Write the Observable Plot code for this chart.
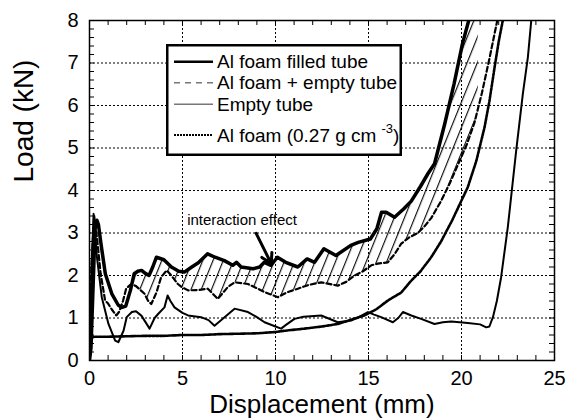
<!DOCTYPE html>
<html><head><meta charset="utf-8">
<script src="https://cdn.jsdelivr.net/npm/d3@7"></script>
<script src="https://cdn.jsdelivr.net/npm/@observablehq/plot@0.6"></script>
<style>
body{margin:0;background:#fff;}
#wrap{position:relative;width:576px;height:420px;font-family:"Liberation Sans",Arial,Helvetica,sans-serif;}
#legend{position:absolute;left:166px;top:44px;}
</style></head><body><div id="wrap"></div>
<script>
// Al foam filled tube
const ftX = [0,0.08,0.3,0.4,0.48,0.6,0.85,1.2,1.55,1.75,1.95,2.2,2.4,2.6,2.8,3.0,3.2,3.4,3.6,4.0,4.4,4.8,5.1,5.5,5.85,6.35,6.75,7.25,7.7,7.9,8.15,8.8,9.15,9.4,9.75,10.1,10.55,11.2,11.7,12.1,12.6,13.25,14.05,14.45,15.1,15.45,15.7,15.95,16.4,16.9,17.3,17.8,18.2,18.55,19.1,19.6,20.05,20.45,20.7];
const ftY = [0,0.3,3.1,3.3,3.2,2.8,2.04,1.57,1.3,1.25,1.28,1.65,2.04,2.1,2.12,2.05,2.0,2.2,2.43,2.37,2.2,2.1,2.08,2.2,2.3,2.51,2.43,2.35,2.24,2.31,2.2,2.16,2.2,2.31,2.24,2.43,2.31,2.2,2.39,2.31,2.63,2.47,2.71,2.78,2.86,3.1,3.49,3.49,3.37,3.57,3.75,4.1,4.4,4.63,5.57,6.51,7.45,8.1,8.6];
// Al foam + empty tube
const feX = [0,0.1,0.25,0.4,0.6,0.84,1.0,1.2,1.44,1.6,1.8,1.97,2.24,2.5,2.96,3.14,3.32,3.6,3.85,4.15,4.4,4.75,4.95,5.3,5.9,6.36,6.9,7.44,7.8,8.52,9.0,9.41,10.13,10.6,11.2,11.8,12.46,13.35,13.8,14.25,14.7,15.15,15.5,16.04,16.4,16.76,17.2,17.65,18.0,18.37,18.9,19.4,19.8,20.3,20.7,21.1,21.5,21.9,22.05];
const feY = [0,2.2,3.4,2.9,2.04,1.41,1.34,1.2,1.06,1.15,1.4,1.69,1.8,1.75,1.57,1.41,1.33,1.6,1.96,2.12,2.0,1.8,1.73,1.65,1.66,1.69,1.45,1.73,1.84,1.8,1.7,1.61,1.49,1.6,1.69,1.78,1.84,1.76,1.85,2.0,2.1,2.24,2.28,2.31,2.5,2.75,2.9,3.0,3.15,3.35,3.75,4.2,4.6,5.1,5.6,6.3,7.1,7.95,8.4];
// Empty tube
const etX = [0,0.1,0.22,0.4,0.66,1.02,1.38,1.55,1.83,2.0,2.28,2.5,2.8,3.23,3.5,3.7,4.03,4.2,4.35,4.57,5.0,5.3,6.0,6.4,6.72,7.26,7.8,8.52,9.0,9.41,10.0,10.3,10.6,11.02,11.5,12.46,13.35,14.07,14.6,14.97,15.3,15.68,16.31,16.6,16.85,17.3,17.83,18.55,19.0,19.45,20.34,21.0,21.33,21.5,21.69,21.9,22.13,22.49,22.94,23.3,23.57,23.75,23.85];
const etY = [0,2.0,3.45,2.43,1.49,0.86,0.47,0.43,0.7,1.02,1.14,1.16,1.05,0.75,1.0,1.1,1.25,1.53,1.4,1.25,1.12,1.06,1.02,0.95,0.82,1.02,1.22,1.14,1.02,0.9,0.8,0.75,0.85,0.98,1.03,1.06,0.9,0.94,1.05,1.14,1.08,1.02,0.9,1.0,1.14,1.06,0.98,0.86,0.9,0.92,0.88,0.85,0.78,0.8,1.02,1.4,1.96,3.14,4.94,6.28,7.14,8.0,8.5];
// Al foam (0.27 g cm-3)
const afX = [0,0.05,0.15,0.3,1,2,3,4,5,6,7,8,9,10,10.5,11.56,12.5,13.35,14.0,14.78,15.4,16.04,16.76,17.3,17.8,18.37,18.9,19.5,20.34,20.8,21.24,21.5,21.78,22.0,22.22,22.3];
const afY = [0,0.35,0.55,0.56,0.56,0.57,0.58,0.58,0.6,0.6,0.62,0.63,0.64,0.67,0.7,0.75,0.8,0.86,0.95,1.06,1.2,1.41,1.6,1.88,2.1,2.43,2.8,3.3,4.08,4.7,5.49,6.1,6.9,7.5,8.0,8.3];

const seriesNames = ["Al foam filled tube","Al foam + empty tube","Empty tube","Al foam (0.27 g cm"];
const xTicks = [0,5,10,15,20,25];
const yTicks = [0,1,2,3,4,5,6,7,8];
const xGrid = [5,10,15,20];
const yGrid = [1,2,3,4,5,6,7];
const annotationText = ["interaction effect"];
const annotationPos = [{x:5.25, y:3.18}];
const arrowFrom = [{x:8.96, y:2.99}];
const arrowTo = [{x:9.77, y:2.28}];
const hatchRange = [2.3, 20.9];

const toRows = (xs, ys) => xs.map((x, i) => ({x, y: ys[i]}));
const ft = toRows(ftX, ftY), fe = toRows(feX, feY), et = toRows(etX, etY), af = toRows(afX, afY);

// hatched band between the filled-tube and foam+empty-tube curves
const iFT = d3.scaleLinear().domain(ftX).range(ftY);
const iFE = d3.scaleLinear().domain(feX).range(feY);
const hx = Array.from(new Set([...ftX, ...feX, ...hatchRange])).filter(x => x >= hatchRange[0] && x <= hatchRange[1]).sort((a,b)=>a-b);
const band = hx.map(x => ({x, lo: iFE(x), hi: iFT(x)}));

const xMinor = d3.range(0, 25.001, 1);
const yMinor = d3.range(0, 8.001, 0.2);
const W = 576, H = 420, mL = 89, mR = 22, mT = 20, mB = 60;
const iw = W - mL - mR, ih = H - mT - mB;

const chart = Plot.plot({
  width: W, height: H,
  marginLeft: mL, marginRight: mR, marginTop: mT, marginBottom: mB,
  style: {fontFamily: "Liberation Sans, Arial, Helvetica, sans-serif", color: "black", background: "white"},
  x: {domain: [0, 25]},
  y: {domain: [0, 8]},
  marks: [
    Plot.ruleX(xGrid, {x: d => d, stroke: "black", strokeWidth: 1, strokeDasharray: "2,2"}),
    Plot.ruleY(yGrid, {y: d => d, stroke: "black", strokeWidth: 1, strokeDasharray: "2,2"}),
    Plot.areaY(band, {x: "x", y1: "lo", y2: "hi", fill: "url(#hatch)", clip: true}),
    Plot.line(af, {x: "x", y: "y", stroke: "black", strokeWidth: 2.6, strokeDasharray: "2.5,1.3", clip: true}),
    Plot.line(et, {x: "x", y: "y", stroke: "black", strokeWidth: 2, clip: true}),
    Plot.line(fe, {x: "x", y: "y", stroke: "black", strokeWidth: 2.2, strokeDasharray: "5,3", clip: true}),
    Plot.line(ft, {x: "x", y: "y", stroke: "black", strokeWidth: 3.5, clip: true}),
    Plot.tickX(xMinor, {x: d => d, insetTop: ih - 5, stroke: "black"}),
    Plot.tickX(xMinor, {x: d => d, insetBottom: ih - 5, stroke: "black"}),
    Plot.tickY(yMinor, {y: d => d, insetRight: iw - 5, stroke: "black"}),
    Plot.tickY(yMinor, {y: d => d, insetLeft: iw - 5, stroke: "black"}),
    Plot.frame({stroke: "black", strokeWidth: 1.5}),
    Plot.axisX(xTicks, {tickSize: 0, tickPadding: 10, fontSize: 20, label: null}),
    Plot.axisY(yTicks, {tickSize: 0, tickPadding: 11, fontSize: 20, label: null}),
    Plot.text(["Displacement (mm)"], {frameAnchor: "bottom", dy: 34, lineAnchor: "top", fontSize: 26}),
    Plot.text(["Load (kN)"], {frameAnchor: "left", dx: -65, dy: -8, rotate: -90, fontSize: 28}),
    Plot.text(annotationPos, {x: "x", y: "y", text: (d, i) => annotationText[i], textAnchor: "start", lineAnchor: "bottom", fontSize: 15}),
    Plot.arrow(arrowFrom, {x1: "x", y1: "y", x2: (d, i) => arrowTo[i].x, y2: (d, i) => arrowTo[i].y, stroke: "black", strokeWidth: 3, headLength: 6})
  ]
});

d3.select(chart).insert("defs", ":first-child").html(
  '<pattern id="hatch" patternUnits="userSpaceOnUse" width="9.5" height="9.5" patternTransform="rotate(22)">' +
  '<line x1="0.6" y1="-1" x2="0.6" y2="10.5" stroke="black" stroke-width="1.1"/></pattern>');

const wrap = document.getElementById("wrap");
wrap.appendChild(chart);

// legend
const legendStyles = [
  {stroke: "black", width: 2.5, dash: null},
  {stroke: "#777", width: 1.5, dash: "6,5"},
  {stroke: "#777", width: 1.5, dash: null},
  {stroke: "black", width: 2, dash: "2,1"}
];
const rowsY = [17.7, 38.7, 60.3, 91];
const lg = d3.select(wrap).append("svg").attr("id", "legend").attr("width", 236).attr("height", 112)
  .style("font-family", "Liberation Sans, Arial, Helvetica, sans-serif");
lg.append("rect").attr("x", 1.25).attr("y", 1.25).attr("width", 233.5).attr("height", 109.5)
  .attr("fill", "white").attr("stroke", "black").attr("stroke-width", 2.5);
seriesNames.forEach((name, i) => {
  const s = legendStyles[i];
  lg.append("line").attr("x1", 8).attr("x2", 47).attr("y1", rowsY[i]).attr("y2", rowsY[i])
    .attr("stroke", s.stroke).attr("stroke-width", s.width).attr("stroke-dasharray", s.dash);
  const t = lg.append("text").attr("x", 51).attr("y", rowsY[i]).attr("dy", "0.35em").attr("font-size", 19).text(name);
  if (i === 3) {
    t.append("tspan").attr("font-size", 13).attr("dx", 5).attr("dy", -9).text("-3");
    t.append("tspan").attr("font-size", 19).attr("dy", 9).text(")");
  }
});
</script></body></html>
